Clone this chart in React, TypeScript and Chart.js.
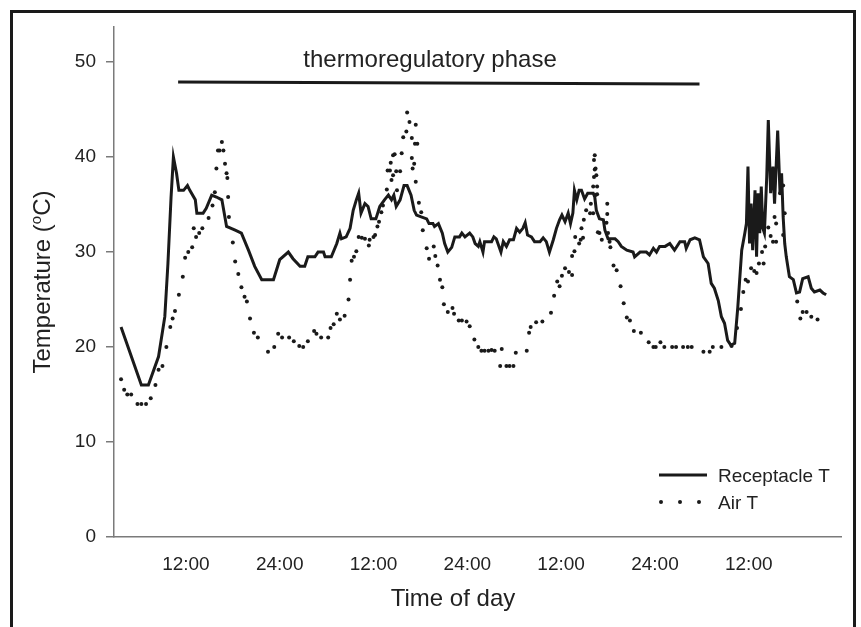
import React, { useEffect, useRef } from 'react';
import { Chart, registerables } from 'chart.js';

Chart.register(...registerables);

// Receptacle temperature (solid line): time in hours from start of day 1, temperature in °C
const recHours = [
  3.7, 6.3, 7.2, 8.5, 9.3, 9.7, 10.1, 10.4, 10.8, 11.1,
  11.7, 12.2, 12.5, 13.2, 13.4, 14.2, 14.6, 15.3, 15.9, 16.6,
  17.2, 18.3, 19.1, 20.0, 20.8, 21.7, 23.2, 24.0, 25.1, 25.7,
  26.6, 27.2, 27.6, 28.5, 28.9, 29.6, 29.8, 30.6, 31.3, 31.7,
  31.9, 32.5, 33.0, 33.4, 33.8, 34.1, 34.4, 34.9, 35.3, 35.7,
  36.3, 36.8, 37.4, 37.9, 38.3, 38.6, 38.9, 39.4, 39.9, 40.3,
  40.8, 41.2, 41.5, 42.1, 42.8, 43.1, 43.6, 43.8, 44.3, 44.8,
  45.1, 45.5, 46.0, 46.4, 47.0, 47.3, 47.7, 48.3, 48.7, 49.0,
  49.4, 49.6, 50.0, 50.2, 51.1, 51.4, 51.7, 52.3, 52.6, 53.0,
  53.4, 53.9, 54.3, 54.7, 55.1, 55.4, 55.7, 56.2, 56.6, 57.3,
  57.7, 58.1, 58.5, 59.0, 59.4, 59.8, 60.1, 60.5, 60.9, 61.2,
  61.5, 61.7, 62.0, 62.3, 62.6, 63.0, 63.4, 64.1, 64.3, 64.5,
  64.9, 65.4, 65.6, 66.0, 66.9, 67.3, 67.7, 68.4, 69.2, 69.4,
  70.1, 70.9, 71.3, 71.8, 72.2, 72.6, 73.3, 73.9, 74.5, 75.2,
  75.8, 76.0, 76.5, 77.1, 77.7, 78.2, 78.8, 79.2, 79.6, 80.1,
  80.5, 80.9, 81.3, 81.7, 82.2, 82.6, 83.1, 83.5, 83.7, 83.9,
  84.1, 84.3, 84.5, 84.8, 85.0, 85.2, 85.4, 85.6, 85.8, 86.0,
  86.3, 86.5, 86.8, 87.1, 87.3, 87.7, 88.0, 88.2, 88.4, 88.6,
  88.8, 89.2, 89.7, 90.1, 90.5, 90.9, 91.6, 92.0, 92.4, 93.1,
  93.5, 93.9,
];
const recTemps = [
  22.1, 16.0, 16.0, 19.0, 23.2, 28.8, 35.8, 40.0, 38.3, 36.5,
  36.5, 37.0, 36.5, 35.5, 34.1, 34.1, 34.6, 36.0, 35.8, 35.5,
  32.7, 32.3, 32.0, 30.2, 28.5, 27.1, 27.1, 29.2, 30.0, 29.3,
  28.5, 28.5, 29.5, 29.5, 30.0, 30.0, 29.5, 29.5, 30.9, 32.0,
  31.4, 31.6, 32.5, 34.4, 35.5, 36.2, 34.1, 35.1, 34.8, 33.5,
  33.5, 34.8, 35.5, 36.0, 35.5, 36.0, 34.8, 35.5, 37.0, 37.0,
  36.0, 34.4, 33.9, 33.7, 33.5, 33.0, 33.0, 32.7, 33.0, 32.0,
  30.9, 30.0, 30.5, 31.6, 31.6, 32.0, 31.6, 32.0, 31.6, 30.9,
  30.6, 31.1, 30.0, 31.1, 31.1, 31.6, 31.4, 30.0, 31.1, 30.6,
  31.3, 31.3, 32.5, 32.1, 32.5, 33.1, 31.8, 31.6, 31.1, 31.1,
  31.5, 31.1, 30.0, 31.3, 32.5, 33.4, 33.9, 33.2, 34.1, 33.0,
  34.1, 36.5, 35.5, 36.5, 36.5, 35.6, 36.2, 36.2, 35.8, 34.4,
  33.5, 33.4, 32.3, 31.4, 31.4, 31.1, 30.6, 30.2, 30.0, 29.5,
  30.0, 30.0, 29.7, 30.4, 30.0, 30.6, 30.6, 30.9, 30.2, 31.1,
  31.1, 30.4, 31.3, 31.5, 31.3, 29.5, 28.8, 26.7, 26.2, 24.9,
  23.2, 22.5, 20.7, 20.2, 20.4, 24.2, 30.2, 32.0, 33.0, 39.0,
  30.9, 35.1, 30.2, 36.5, 29.5, 36.2, 32.0, 36.9, 32.5, 32.0,
  37.9, 43.9, 36.2, 39.0, 35.1, 42.8, 36.2, 38.3, 33.7, 30.9,
  29.5, 27.4, 27.1, 25.7, 25.8, 27.2, 27.4, 26.2, 25.8, 26.0,
  25.7, 25.5,
];

// Air temperature (dots)
const airHours = [
  3.7, 4.1, 4.5, 5.0, 5.8, 6.3, 6.9, 7.5, 8.1, 8.5,
  9.0, 9.5, 10.0, 10.3, 10.6, 11.1, 11.6, 11.9, 12.3, 12.8,
  13.0, 13.3, 13.7, 14.1, 14.9, 15.4, 15.7, 15.9, 16.1, 16.3,
  16.6, 16.8, 17.0, 17.2, 17.3, 17.4, 17.5, 18.0, 18.3, 18.7,
  19.1, 19.5, 19.8, 20.2, 20.7, 21.2, 22.5, 23.3, 23.8, 24.3,
  25.2, 25.8, 26.5, 27.0, 27.6, 28.4, 28.7, 29.3, 30.2, 30.5,
  30.9, 31.3, 31.7, 32.3, 32.8, 33.0, 33.2, 33.5, 33.8, 34.1,
  34.5, 34.9, 35.4, 35.5, 36.0, 36.2, 36.5, 36.7, 37.0, 37.2,
  37.7, 37.8, 38.1, 38.2, 38.3, 38.5, 38.5, 38.7, 38.9, 39.0,
  39.4, 39.6, 39.8, 40.2, 40.3, 40.6, 40.9, 40.9, 41.0, 41.2,
  41.3, 41.4, 41.4, 41.6, 41.8, 42.1, 42.3, 42.8, 43.1, 43.7,
  43.9, 44.2, 44.5, 44.8, 45.0, 45.5, 46.1, 46.3, 46.9, 47.3,
  47.9, 48.3, 48.9, 49.4, 49.8, 50.2, 50.7, 51.1, 51.5, 52.2,
  52.4, 53.0, 53.4, 53.9, 54.2, 55.6, 55.9, 56.1, 56.8, 57.6,
  58.7, 59.1, 59.5, 59.8, 60.1, 60.5, 61.0, 61.4, 61.4, 61.7,
  61.8, 62.3, 62.5, 62.6, 62.8, 62.9, 63.2, 63.7, 63.8, 64.1,
  64.1, 64.2, 64.2, 64.3, 64.3, 64.4, 64.4, 64.5, 64.6, 64.6,
  64.7, 64.9, 65.2, 65.8, 65.9, 65.9, 66.0, 66.2, 66.3, 66.7,
  67.1, 67.6, 68.0, 68.4, 68.8, 69.3, 70.2, 71.2, 71.8, 72.1,
  72.7, 73.2, 74.2, 74.7, 75.6, 76.2, 76.7, 78.2, 79.0, 79.4,
  80.5, 81.8, 82.5, 83.0, 83.3, 83.6, 83.9, 84.3, 84.7, 85.0,
  85.3, 85.7, 85.9, 86.1, 86.5, 86.8, 87.1, 87.3, 87.5, 87.5,
  88.0, 88.4, 88.4, 88.6, 90.2, 90.6, 90.9, 91.4, 92.0, 92.8,
];
const airTemps = [
  16.6, 15.5, 15.0, 15.0, 14.0, 14.0, 14.0, 14.6, 16.0, 17.6,
  18.0, 20.0, 22.1, 23.0, 23.8, 25.5, 27.4, 29.4, 30.0, 30.5,
  32.5, 31.6, 32.0, 32.5, 33.6, 34.9, 36.3, 38.8, 40.7, 40.7,
  41.6, 40.7, 39.3, 38.3, 37.8, 35.8, 33.7, 31.0, 29.0, 27.7,
  26.3, 25.3, 24.8, 23.0, 21.5, 21.0, 19.5, 20.0, 21.4, 21.0,
  21.0, 20.6, 20.1, 20.0, 20.6, 21.7, 21.4, 21.0, 21.0, 22.0,
  22.4, 23.5, 22.9, 23.3, 25.0, 27.1, 29.1, 29.5, 30.1, 31.6,
  31.5, 31.4, 30.7, 31.3, 31.6, 31.8, 32.7, 33.2, 34.2, 34.9,
  36.6, 38.6, 38.6, 39.4, 37.6, 38.1, 40.2, 40.3, 38.5, 36.5,
  38.5, 40.4, 42.1, 42.7, 44.7, 43.7, 42.0, 39.9, 38.8, 39.3,
  41.4, 43.4, 37.4, 41.4, 35.2, 34.2, 32.3, 30.4, 29.3, 30.6,
  29.6, 28.6, 27.1, 26.3, 24.5, 23.7, 24.1, 23.5, 22.8, 22.8,
  22.7, 22.2, 20.8, 20.0, 19.6, 19.6, 19.6, 19.7, 19.6, 18.0,
  19.8, 18.0, 18.0, 18.0, 19.4, 19.6, 21.5, 22.1, 22.6, 22.7,
  23.6, 25.4, 26.9, 26.4, 27.5, 28.3, 27.9, 27.6, 29.6, 30.1,
  31.6, 30.9, 31.3, 32.5, 31.5, 33.4, 34.4, 34.1, 35.1, 34.1,
  36.9, 37.9, 39.7, 38.7, 40.2, 36.0, 38.8, 38.1, 36.9, 36.1,
  32.1, 32.0, 31.3, 33.1, 35.1, 34.0, 32.0, 31.1, 30.5, 28.6,
  28.1, 26.4, 24.6, 23.1, 22.8, 21.7, 21.5, 20.5, 20.0, 20.0,
  20.5, 20.0, 20.0, 20.0, 20.0, 20.0, 20.0, 19.5, 19.5, 20.0,
  20.0, 20.1, 22.0, 24.0, 25.8, 27.1, 26.9, 28.3, 28.0, 27.8,
  28.8, 30.0, 28.8, 30.6, 32.6, 31.7, 31.1, 33.7, 31.1, 33.0,
  36.2, 31.8, 37.0, 34.1, 24.8, 23.0, 23.7, 23.7, 23.2, 22.9,
];

// Thermoregulatory phase bar (start / end)
const phaseHours = [11.0, 77.7];
const phaseTemps = [47.9, 47.7];
const phaseLabel = 'thermoregulatory phase';

// Axes
const xTickHours = [12, 24, 36, 48, 60, 72, 84];
const xTickLabels = ['12:00', '24:00', '12:00', '24:00', '12:00', '24:00', '12:00'];
const yTickValues = [0, 10, 20, 30, 40, 50];
const xTitle = 'Time of day';
const yTitleParts = ['Temperature (', 'o', 'C)'];
const legendLabels = ['Receptacle T', 'Air T'];

const FONT = '"Liberation Sans", Arial, Helvetica, sans-serif';
const INK = '#1a1a1a';
const TEXT = '#222222';
const AXIS = '#7a7a7a';

const toPoints = (xs: number[], ys: number[]) => xs.map((x, i) => ({ x, y: ys[i] }));

export default function App() {
  const canvasRef = useRef<HTMLCanvasElement | null>(null);

  useEffect(() => {
    const canvas = canvasRef.current;
    if (!canvas) return;

    const annotations = {
      id: 'annotations',
      afterDraw(chart: any) {
        const { ctx, chartArea } = chart;
        ctx.save();
        ctx.fillStyle = TEXT;
        ctx.textBaseline = 'alphabetic';

        // phase label
        ctx.font = `24px ${FONT}`;
        ctx.textAlign = 'center';
        ctx.fillText(phaseLabel, 430, 67);

        // x title
        ctx.fillText(xTitle, 453, 606);

        // legend
        ctx.textAlign = 'left';
        ctx.font = `19px ${FONT}`;
        ctx.strokeStyle = INK;
        ctx.lineWidth = 3;
        ctx.beginPath();
        ctx.moveTo(659, 475);
        ctx.lineTo(707, 475);
        ctx.stroke();
        ctx.fillText(legendLabels[0], 718, 482);
        ctx.fillStyle = INK;
        [661, 680, 699].forEach((dx) => {
          ctx.beginPath();
          ctx.arc(dx, 502, 2, 0, Math.PI * 2);
          ctx.fill();
        });
        ctx.fillStyle = TEXT;
        ctx.fillText(legendLabels[1], 718, 509);

        // y title with superscript
        ctx.translate(50, (chartArea.top + chartArea.bottom) / 2);
        ctx.rotate(-Math.PI / 2);
        ctx.font = `24px ${FONT}`;
        const w1 = ctx.measureText(yTitleParts[0]).width;
        const w3 = ctx.measureText(yTitleParts[2]).width;
        ctx.font = `15px ${FONT}`;
        const w2 = ctx.measureText(yTitleParts[1]).width;
        let x = -(w1 + w2 + w3) / 2;
        ctx.font = `24px ${FONT}`;
        ctx.fillText(yTitleParts[0], x, 0);
        x += w1;
        ctx.font = `15px ${FONT}`;
        ctx.fillText(yTitleParts[1], x, -9);
        x += w2;
        ctx.font = `24px ${FONT}`;
        ctx.fillText(yTitleParts[2], x, 0);
        ctx.restore();
      },
    };

    const chart = new Chart(canvas, {
      type: 'scatter',
      data: {
        datasets: [
          {
            label: legendLabels[0],
            data: toPoints(recHours, recTemps),
            showLine: true,
            borderColor: INK,
            borderWidth: 3,
            pointRadius: 0,
            tension: 0,
          },
          {
            label: legendLabels[1],
            data: toPoints(airHours, airTemps),
            showLine: false,
            pointRadius: 2,
            pointBackgroundColor: INK,
            pointBorderColor: INK,
            pointBorderWidth: 0,
          },
          {
            label: phaseLabel,
            data: toPoints(phaseHours, phaseTemps),
            showLine: true,
            borderColor: INK,
            borderWidth: 3,
            pointRadius: 0,
          },
        ],
      },
      options: {
        animation: false,
        responsive: false,
        devicePixelRatio: 1,
        layout: { padding: { left: 0, right: 20, top: 27, bottom: 0 } },
        plugins: {
          legend: { display: false },
          tooltip: { enabled: false },
        },
        scales: {
          x: {
            type: 'linear',
            min: 2.8,
            max: 95.8,
            afterBuildTicks: (scale: any) => {
              scale.ticks = xTickHours.map((v) => ({ value: v }));
            },
            afterFit: (scale: any) => {
              scale.height = 90;
            },
            ticks: {
              autoSkip: false,
              maxRotation: 0,
              padding: 8,
              color: TEXT,
              font: { family: FONT, size: 19 },
              callback: (value: any) => xTickLabels[xTickHours.indexOf(Number(value))] ?? '',
            },
            grid: { display: false },
            border: { display: true, color: AXIS, width: 1.5 },
          },
          y: {
            min: 0,
            max: 53.7,
            afterBuildTicks: (scale: any) => {
              scale.ticks = yTickValues.map((v) => ({ value: v }));
            },
            afterFit: (scale: any) => {
              scale.width = 114;
            },
            ticks: {
              padding: 10,
              color: TEXT,
              font: { family: FONT, size: 19 },
            },
            grid: { drawOnChartArea: false, drawTicks: true, tickLength: 8, color: AXIS, lineWidth: 1.5 },
            border: { display: true, color: AXIS, width: 1.5 },
          },
        },
      },
      plugins: [annotations],
    } as any);

    return () => chart.destroy();
  }, []);

  return (
    <div style={{ position: 'fixed', left: 0, top: 0, width: 861, height: 627, background: '#fff', overflow: 'hidden' }}>
      <canvas ref={canvasRef} width={861} height={627} style={{ position: 'absolute', left: 0, top: 0 }} />
      <div
        style={{
          position: 'absolute',
          left: 10,
          top: 10,
          width: 846,
          height: 700,
          border: '3px solid #1a1a1a',
          boxSizing: 'border-box',
          pointerEvents: 'none',
        }}
      />
    </div>
  );
}
